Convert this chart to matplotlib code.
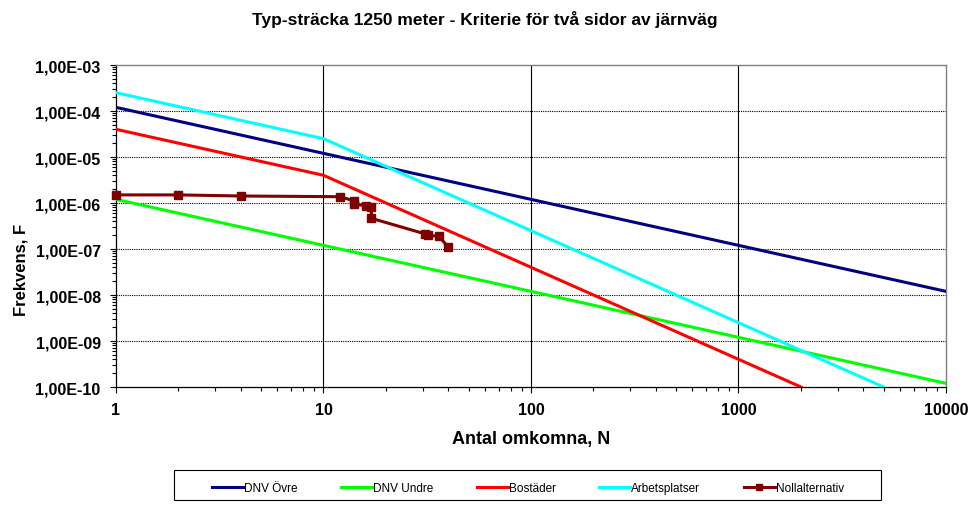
import matplotlib
matplotlib.use('Agg')
import matplotlib.pyplot as plt
from matplotlib.patches import Rectangle
from matplotlib.ticker import LogLocator, FixedLocator, NullFormatter

plt.rcParams['font.family'] = ['Liberation Sans', 'DejaVu Sans']

# F-N curves
dnv_ovre_n = [1, 10000]
dnv_ovre_f = [1.2e-4, 1.2e-8]
dnv_undre_n = [1, 10000]
dnv_undre_f = [1.2e-6, 1.2e-10]
bostader_n = [1, 10, 2000]
bostader_f = [4e-5, 4e-6, 1e-10]
arbets_n = [1, 10, 5000]
arbets_f = [2.5e-4, 2.5e-5, 1e-10]
noll_n = [1, 2, 4, 12, 14, 14, 16, 17, 17, 31, 32, 36, 40]
noll_f = [1.5e-6, 1.5e-6, 1.42e-6, 1.37e-6, 1.12e-6, 0.95e-6, 8.7e-7, 8.1e-7,
          4.65e-7, 2.12e-7, 2.0e-7, 1.88e-7, 1.09e-7]

x_ticks = [1, 10, 100, 1000, 10000]
x_labels = ['1', '10', '100', '1000', '10000']
y_ticks = [1e-10, 1e-9, 1e-8, 1e-7, 1e-6, 1e-5, 1e-4, 1e-3]
y_labels = ['1,00E-10', '1,00E-09', '1,00E-08', '1,00E-07', '1,00E-06',
            '1,00E-05', '1,00E-04', '1,00E-03']

W, H = 978, 506
fig = plt.figure(figsize=(W / 100, H / 100), dpi=100)
ax = fig.add_axes([116 / W, 1 - 388 / H, 830 / W, 322 / H])

ax.set_xscale('log')
ax.set_yscale('log')
ax.set_xlim(1, 10000)
ax.set_ylim(1e-10, 1e-3)

# grid: solid vertical, dotted horizontal
for x in x_ticks[1:-1]:
    ax.axvline(x, color='black', lw=0.8, zorder=1)
for y in y_ticks[1:-1]:
    ax.axhline(y, color='black', lw=0.8, ls=(0, (1, 1)), zorder=1)

lw = 2.2
ax.plot(dnv_ovre_n, dnv_ovre_f, color='#000080', lw=lw, label='DNV Övre', zorder=3)
ax.plot(dnv_undre_n, dnv_undre_f, color='#00FF00', lw=lw, label='DNV Undre', zorder=3)
ax.plot(bostader_n, bostader_f, color='#FF0000', lw=lw, label='Bostäder', zorder=3)
ax.plot(arbets_n, arbets_f, color='#00FFFF', lw=lw, label='Arbetsplatser', zorder=3)
ax.plot(noll_n, noll_f, color='#800000', lw=lw, marker='s', markersize=6,
        label='Nollalternativ', zorder=4, clip_on=False)

ax.xaxis.set_major_locator(FixedLocator(x_ticks))
ax.set_xticklabels(x_labels)
ax.xaxis.set_minor_locator(LogLocator(base=10, subs=range(2, 10), numticks=20))
ax.xaxis.set_minor_formatter(NullFormatter())
ax.yaxis.set_major_locator(FixedLocator(y_ticks))
ax.set_yticklabels(y_labels)
ax.yaxis.set_minor_locator(LogLocator(base=10, subs=range(2, 10), numticks=20))
ax.yaxis.set_minor_formatter(NullFormatter())

ax.tick_params(which='major', direction='out', length=4, width=0.8, pad=7,
               labelsize=11.5)
ax.tick_params(which='minor', direction='out', length=3, width=0.8)
for lab in ax.get_xticklabels() + ax.get_yticklabels():
    lab.set_fontweight('bold')

for side in ['left', 'bottom']:
    ax.spines[side].set_color('black')
    ax.spines[side].set_linewidth(0.9)
for side in ['top', 'right']:
    ax.spines[side].set_color('#808080')
    ax.spines[side].set_linewidth(1.0)

fig.text(485 / W, 1 - 19 / H, 'Typ-sträcka 1250 meter - Kriterie för två sidor av järnväg',
         ha='center', va='center', fontsize=12.5, fontweight='bold')
fig.text(531 / W, 1 - 440 / H, 'Antal omkomna, N', ha='center', va='center',
         fontsize=13, fontweight='bold')
fig.text(21 / W, 1 - 270 / H, 'Frekvens, F', ha='center', va='center',
         rotation=90, fontsize=12, fontweight='bold')

# legend box drawn separately, legend entries inside
fig.patches.append(Rectangle((174 / W, 1 - 501 / H), 707 / W, 30 / H,
                             transform=fig.transFigure, fill=False,
                             edgecolor='black', lw=0.8))
leg = fig.legend(loc='center', bbox_to_anchor=(528 / W, 1 - 489 / H),
                 ncol=5, fontsize=8.5, frameon=False,
                 handlelength=2.6, handletextpad=0.1,
                 columnspacing=3.7, markerscale=0.8)

fig.savefig('out.png', dpi=100)
